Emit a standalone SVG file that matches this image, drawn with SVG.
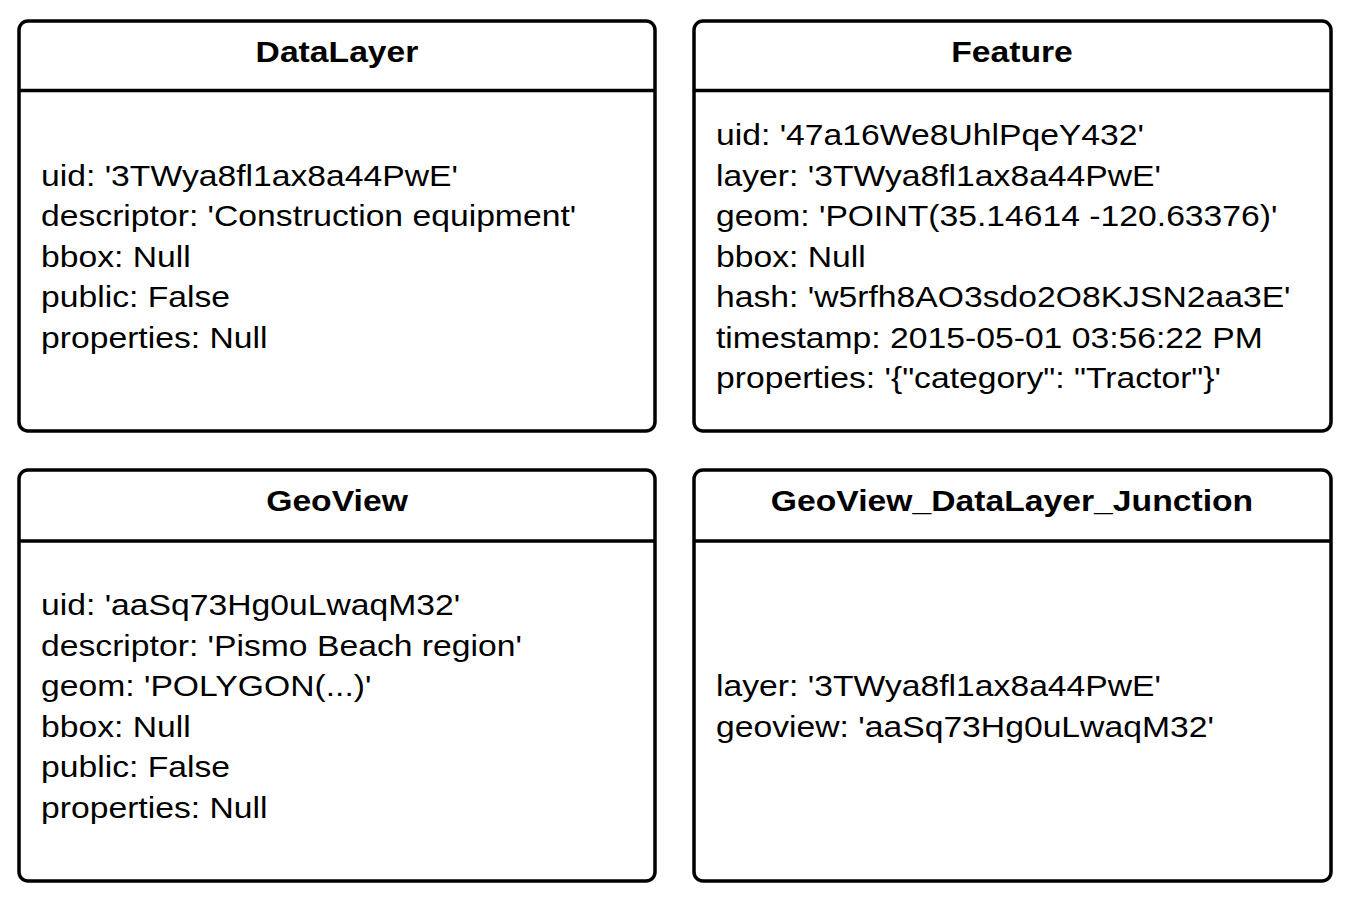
<svg xmlns="http://www.w3.org/2000/svg" width="1350" height="905" viewBox="0 0 1350 905">
<style>
.box{fill:#fff;stroke:#000;stroke-width:3.5}
.div{stroke:#000;stroke-width:3.5}
.t{font-family:"Liberation Sans",Arial,sans-serif;font-size:29.5px;font-weight:bold;text-anchor:middle;fill:#000}
.a{font-family:"Liberation Sans",Arial,sans-serif;font-size:29.5px;fill:#000}
</style>
<rect width="1350" height="905" fill="#fff"/>
<g id="DataLayer">
<rect class="box" x="19" y="21" width="636" height="410" rx="9"/>
<line class="div" x1="19" y1="90.5" x2="655" y2="90.5"/>
<text class="t" transform="translate(337,61.5) scale(1.142,1)">DataLayer</text>
<g transform="translate(41,0) scale(1.142,1)">
<text class="a" x="0" y="186">uid: '3TWya8fl1ax8a44PwE'</text>
<text class="a" x="0" y="226.5">descriptor: 'Construction equipment'</text>
<text class="a" x="0" y="267">bbox: Null</text>
<text class="a" x="0" y="307.5">public: False</text>
<text class="a" x="0" y="348">properties: Null</text>
</g>
</g>
<g id="Feature">
<rect class="box" x="694" y="21" width="637" height="410" rx="9"/>
<line class="div" x1="694" y1="90.5" x2="1331" y2="90.5"/>
<text class="t" transform="translate(1012,61.5) scale(1.142,1)">Feature</text>
<g transform="translate(716,0) scale(1.142,1)">
<text class="a" x="0" y="145.5">uid: '47a16We8UhlPqeY432'</text>
<text class="a" x="0" y="186">layer: '3TWya8fl1ax8a44PwE'</text>
<text class="a" x="0" y="226.5">geom: 'POINT(35.14614 -120.63376)'</text>
<text class="a" x="0" y="267">bbox: Null</text>
<text class="a" x="0" y="307.5">hash: 'w5rfh8AO3sdo2O8KJSN2aa3E'</text>
<text class="a" x="0" y="348">timestamp: 2015-05-01 03:56:22 PM</text>
<text class="a" x="0" y="388.5">properties: '{"category": "Tractor"}'</text>
</g>
</g>
<g id="GeoView">
<rect class="box" x="19" y="470" width="636" height="411" rx="9"/>
<line class="div" x1="19" y1="541" x2="655" y2="541"/>
<text class="t" transform="translate(337,511) scale(1.142,1)">GeoView</text>
<g transform="translate(41,0) scale(1.142,1)">
<text class="a" x="0" y="615.5">uid: 'aaSq73Hg0uLwaqM32'</text>
<text class="a" x="0" y="656">descriptor: 'Pismo Beach region'</text>
<text class="a" x="0" y="696.5">geom: 'POLYGON(...)'</text>
<text class="a" x="0" y="737">bbox: Null</text>
<text class="a" x="0" y="777.5">public: False</text>
<text class="a" x="0" y="818">properties: Null</text>
</g>
</g>
<g id="GeoView_DataLayer_Junction">
<rect class="box" x="694" y="470" width="637" height="411" rx="9"/>
<line class="div" x1="694" y1="541" x2="1331" y2="541"/>
<text class="t" transform="translate(1012,511) scale(1.142,1)">GeoView_DataLayer_Junction</text>
<g transform="translate(716,0) scale(1.142,1)">
<text class="a" x="0" y="696.5">layer: '3TWya8fl1ax8a44PwE'</text>
<text class="a" x="0" y="737">geoview: 'aaSq73Hg0uLwaqM32'</text>
</g>
</g>
<g id="connectors"></g>
</svg>
